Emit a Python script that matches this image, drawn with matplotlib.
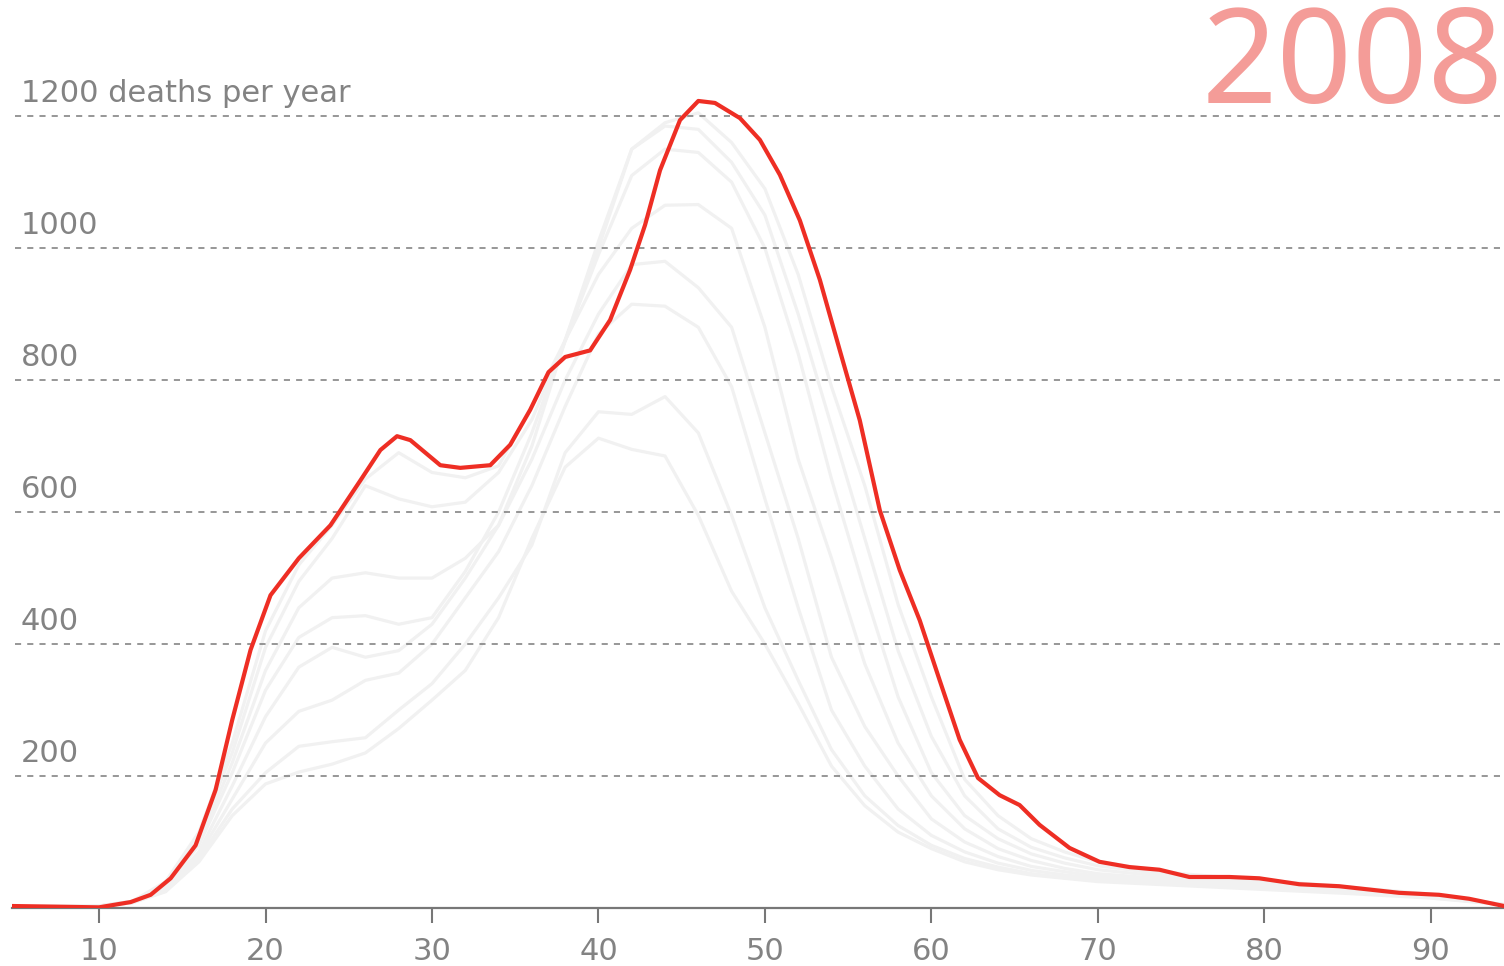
import matplotlib
matplotlib.use('Agg')
from matplotlib import pyplot as plt

# red line, 2008 (age, deaths per year)
red_age = [4.8, 10, 11.9, 13.1, 14.3, 15.8, 17, 18, 19.1, 20.3, 22, 23.9, 25.7, 26.9,
           27.9, 28.7, 30.5, 31.7, 33.5, 34.7, 35.9, 37, 38, 39.5, 40.7, 41.9, 42.8,
           43.7, 44.9, 46, 47, 48.5, 49.7, 50.9, 52.1, 53.3, 54.5, 55.7, 56.9, 58.1,
           59.3, 60.5, 61.7, 62.8, 64.1, 65.3, 66.5, 68.3, 70.1, 71.9, 73.7, 75.5,
           77.9, 79.7, 82.1, 84.5, 88.1, 90.5, 92.3, 94.4]
red_deaths = [3, 1, 9, 20, 45, 95, 179, 285, 391, 474, 530, 580, 648, 694,
              715, 709, 671, 667, 671, 702, 755, 812, 835, 845, 891, 967, 1035,
              1118, 1194, 1223, 1220, 1197, 1164, 1111, 1042, 952, 845, 739, 603, 512,
              436, 345, 255, 197, 171, 156, 126, 91, 70, 62, 58, 47,
              47, 45, 36, 33, 23, 20, 14, 3]

# earlier years, drawn in light gray
ages = [5, 10, 12, 14, 16, 18, 20, 22, 24, 26, 28, 30, 32, 34, 36, 38, 40, 42, 44, 46,
        48, 50, 52, 54, 56, 58, 60, 62, 64, 66, 68, 70, 75, 80, 85, 90, 94.4]
g1 = [2, 3, 8, 25, 70, 140, 188, 206, 218, 235, 272, 315, 360, 440, 560, 668, 712, 695, 685, 595,
      480, 400, 310, 215, 155, 115, 90, 70, 58, 50, 45, 40, 34, 28, 22, 15, 5]
g2 = [2, 3, 8, 25, 75, 150, 205, 245, 252, 258, 300, 340, 400, 470, 550, 690, 752, 748, 775, 720,
      595, 455, 345, 240, 170, 125, 95, 75, 62, 52, 46, 42, 36, 30, 24, 16, 5]
g3 = [2, 3, 8, 28, 80, 165, 250, 298, 315, 345, 356, 400, 470, 540, 640, 760, 870, 915, 912, 880,
      790, 620, 455, 300, 215, 150, 110, 85, 68, 57, 50, 45, 38, 32, 25, 17, 5]
g4 = [2, 3, 9, 30, 85, 185, 290, 365, 395, 380, 390, 430, 500, 580, 680, 800, 900, 975, 980, 940,
      880, 720, 560, 380, 275, 200, 135, 100, 78, 63, 55, 48, 40, 34, 26, 18, 5]
g5 = [2, 3, 10, 32, 95, 205, 330, 410, 440, 443, 430, 440, 510, 600, 720, 860, 960, 1030, 1065, 1066,
      1030, 880, 680, 530, 370, 250, 170, 120, 90, 72, 60, 52, 42, 35, 27, 18, 5]
g6 = [2, 3, 10, 35, 100, 220, 360, 455, 500, 508, 500, 500, 530, 580, 700, 860, 990, 1110, 1150, 1145,
      1100, 1000, 840, 650, 480, 320, 205, 140, 105, 82, 68, 58, 45, 37, 28, 19, 5]
g7 = [2, 3, 10, 38, 110, 235, 395, 495, 560, 640, 620, 608, 615, 660, 740, 860, 1000, 1150, 1185, 1180,
      1130, 1050, 900, 730, 560, 390, 260, 170, 120, 92, 76, 64, 48, 40, 30, 20, 5]
g8 = [2, 3, 10, 40, 115, 250, 420, 520, 580, 650, 690, 660, 652, 670, 760, 860, 1010, 1150, 1190, 1205,
      1160, 1090, 960, 790, 640, 460, 320, 195, 140, 105, 85, 70, 52, 42, 32, 21, 5]
gray_years = [g1, g2, g3, g4, g5, g6, g7, g8]

grid_vals = [200, 400, 600, 800, 1000, 1200]
grid_labels = ['200', '400', '600', '800', '1000', '1200 deaths per year']
xticks = [10, 20, 30, 40, 50, 60, 70, 80, 90]
year_label = '2008'

fig = plt.figure(figsize=(15.04, 9.66), dpi=100)
ax = fig.add_axes([12 / 1504, 58 / 966, 1492 / 1504, 908 / 966])
ax.set_xlim(4.77, 94.4)
ax.set_ylim(0, 1376)

for g in gray_years:
    ax.plot(ages, g, color='#f1f1f1', lw=2.3, solid_capstyle='round',
            solid_joinstyle='round', zorder=1)

ax.hlines(grid_vals, 4.95, 94.4, colors='#7a7a7a', lw=1.1, linestyles=(0, (4, 4)), zorder=2)
for v, lab in zip(grid_vals, grid_labels):
    ax.annotate(lab, xy=(0.006, v), xycoords=('axes fraction', 'data'),
                xytext=(0, 14), textcoords='offset pixels',
                fontsize=22, color='#838383', va='baseline', ha='left')

ax.plot(red_age, red_deaths, color='#ee2e24', lw=3.0, solid_joinstyle='round', zorder=3)

for s in ['left', 'right', 'top']:
    ax.spines[s].set_visible(False)
ax.spines['bottom'].set_color('#777777')
ax.spines['bottom'].set_linewidth(1.6)
ax.set_yticks([])
ax.set_xticks(xticks)
ax.tick_params(axis='x', length=11, width=1.5, color='#777777', labelsize=22,
               labelcolor='#838383', pad=10)

fig.text(1.0, 1 - 103 / 966, year_label, fontsize=95, color='#f49c98',
         family='Noto Sans', ha='right', va='baseline')

fig.savefig('out.png', dpi=100)
